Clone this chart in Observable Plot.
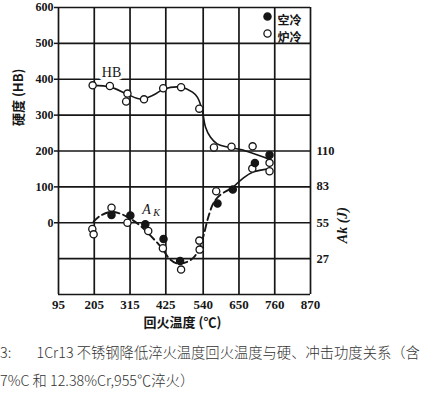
<!DOCTYPE html>
<html><head><meta charset="utf-8">
<script src="https://cdn.jsdelivr.net/npm/d3@7"></script>
<script src="https://cdn.jsdelivr.net/npm/@observablehq/plot@0.6"></script>
<style>
body{margin:0;background:#fff;width:426px;height:396px;overflow:hidden}
#chart svg{display:block}
#caption{font-family:"Noto Sans CJK SC",sans-serif;font-size:14.3px;line-height:28px;color:#333;white-space:pre;font-weight:300;margin:0}
</style></head><body>
<div id="chart"></div>
<div id="caption"></div>
<script>
// tick values
const xTicks = [95, 205, 315, 425, 540, 650, 760, 870];
const hbTicks = [0, 100, 200, 300, 400, 500, 600];
const gridY = [-200, -100, 0, 100, 200, 300, 400, 500, 600];
const akTicks = [110, 83, 55, 27];

// hardness (HB), furnace cooled (open circles)
const hbTemp  = [200, 253, 307, 303, 358, 417, 472, 528, 573, 627, 692, 744];
const hbValue = [383, 381, 360, 338, 344, 375, 378, 318, 210, 212, 213, 167];

// impact energy Ak (J), air cooled (filled)
const akAirTemp  = [258, 316, 362, 418, 469, 584, 631, 699, 744];
const akAirValue = [60.9, 60.6, 53.9, 42.6, 25.7, 69.7, 80.4, 100.8, 107];
// impact energy Ak (J), furnace cooled (open)
const akFurTemp  = [199, 203, 258, 307, 371, 416, 472, 528, 529, 580, 691, 744];
const akFurValue = [50.2, 46.1, 66.5, 55, 48.7, 35.5, 19.1, 41.3, 34.4, 79.2, 96.5, 94.5];

// hand-drawn trend curves
const hbCurveTemp  = [200, 255, 307, 347, 387, 418, 470, 507, 522, 537, 547, 562, 583, 614, 655, 692, 741];
const hbCurveValue = [383, 378, 358, 345, 356, 372, 378, 364, 350, 313, 267, 239, 220, 211, 204, 194, 178];
const akDashTemp  = [203, 224, 258, 286, 316, 347, 378, 409, 439, 461, 492, 513, 529, 541, 556, 572, 593, 630];
const akDashValue = [55.8, 60.4, 63.4, 61.9, 58.1, 52.7, 45.1, 36.7, 26.7, 23.7, 25.2, 29, 35.9, 45.1, 59.6, 70.3, 76.4, 81.7];
const akSolidTemp  = [630, 664, 695, 741];
const akSolidValue = [81.7, 89.4, 94, 96.3];

const legendLabels = ["空冷", "炉冷"];
const legendFilled = [true, false];

const captionLines = [
  "3:        1Cr13 不锈钢降低淬火温度回火温度与硬、冲击功度关系（含",
  "7%C 和 12.38%Cr,955℃淬火）"
];

// Ak (J) right axis: 0 J at -200 HB, 27.5 J per 100 HB
const akToHb = a => a / 0.275 - 200;

const zip = (xs, ys) => xs.map((x, i) => ({x, y: ys[i]}));
const hb = zip(hbTemp, hbValue);
const akAir = zip(akAirTemp, akAirValue.map(akToHb));
const akFur = zip(akFurTemp, akFurValue.map(akToHb));
const hbCurve = zip(hbCurveTemp, hbCurveValue);
const akDash = zip(akDashTemp, akDashValue.map(akToHb));
const akSolid = zip(akSolidTemp, akSolidValue.map(akToHb));

const ink = "#161616";
const cjk = "'Noto Sans CJK SC', sans-serif";

const legendMarks = legendLabels.flatMap((t, i) => [
  Plot.dot([t], {frameAnchor: "top-right", dx: -43, dy: 9 + 17 * i, r: 3.6,
    fill: legendFilled[i] ? ink : "white", stroke: ink, strokeWidth: 1.3}),
  Plot.text([t], {frameAnchor: "top-right", dx: -33, dy: 9 + 17 * i, text: d => d,
    textAnchor: "start", fontFamily: cjk, fontWeight: "bold", fontSize: 12, fill: ink})
]);

const chart = Plot.plot({
  width: 426, height: 338,
  marginLeft: 58, marginRight: 116, marginTop: 7, marginBottom: 44,
  x: {domain: [95, 870]},
  y: {domain: [-200, 600]},
  style: {fontFamily: "'Liberation Serif', serif", background: "white", color: ink},
  marks: [
    Plot.ruleX(xTicks, {stroke: ink, strokeWidth: 1.7}),
    Plot.ruleY(gridY, {stroke: ink, strokeWidth: 1.7}),
    Plot.axisX({ticks: xTicks, tickSize: 0, tickPadding: 5, fontSize: 13, fontWeight: "bold", label: null}),
    Plot.axisY({ticks: hbTicks, tickSize: 4, tickPadding: 1, fontSize: 12, fontWeight: "bold", label: null, strokeWidth: 1.5}),
    Plot.text(akTicks, {frameAnchor: "right", y: akToHb, text: d => String(d), dx: 6, textAnchor: "start", fontSize: 12.5, fontWeight: "bold"}),
    // curves
    Plot.line(hbCurve, {x: "x", y: "y", curve: "catmull-rom", stroke: ink, strokeWidth: 1.6}),
    Plot.line(akDash, {x: "x", y: "y", curve: "catmull-rom", stroke: ink, strokeWidth: 1.9, strokeDasharray: "7,4"}),
    Plot.line(akSolid, {x: "x", y: "y", curve: "catmull-rom", stroke: ink, strokeWidth: 1.6}),
    // points
    Plot.dot(hb, {x: "x", y: "y", r: 3.6, fill: "white", stroke: ink, strokeWidth: 1.3}),
    Plot.dot(akFur, {x: "x", y: "y", r: 3.6, fill: "white", stroke: ink, strokeWidth: 1.3}),
    Plot.dot(akAir, {x: "x", y: "y", r: 3.6, fill: ink, stroke: ink, strokeWidth: 1.3}),
    // curve labels
    Plot.text(["HB"], {x: 258, y: 419, text: d => d, fontSize: 14, stroke: "white", strokeWidth: 6, fill: ink, paintOrder: "stroke"}),
    Plot.text(["A"], {x: 366, y: 36, text: d => d, fontSize: 14, fontStyle: "italic", fill: ink}),
    Plot.text(["K"], {x: 366, y: 36, text: d => d, dx: 10, dy: 3, fontSize: 10, fontStyle: "italic", fill: ink}),
    // legend
    ...legendMarks,
    // axis titles
    Plot.text(["回火温度 (℃)"], {frameAnchor: "bottom", dy: 32, dx: -2, text: d => d, fontFamily: cjk, fontWeight: "bold", fontSize: 13, fill: ink}),
    Plot.text(["硬度 (HB)"], {frameAnchor: "left", rotate: -90, dx: -40, dy: -25, text: d => d, fontFamily: cjk, fontWeight: "bold", fontSize: 13, fill: ink}),
    Plot.text(["Ak (J)"], {frameAnchor: "right", rotate: -90, dx: 32, dy: 56, text: d => d, fontWeight: "bold", fontStyle: "italic", fontSize: 14, fill: ink})
  ]
});
document.getElementById("chart").append(chart);
document.getElementById("caption").textContent = captionLines.join("\n");
</script>
</body></html>
